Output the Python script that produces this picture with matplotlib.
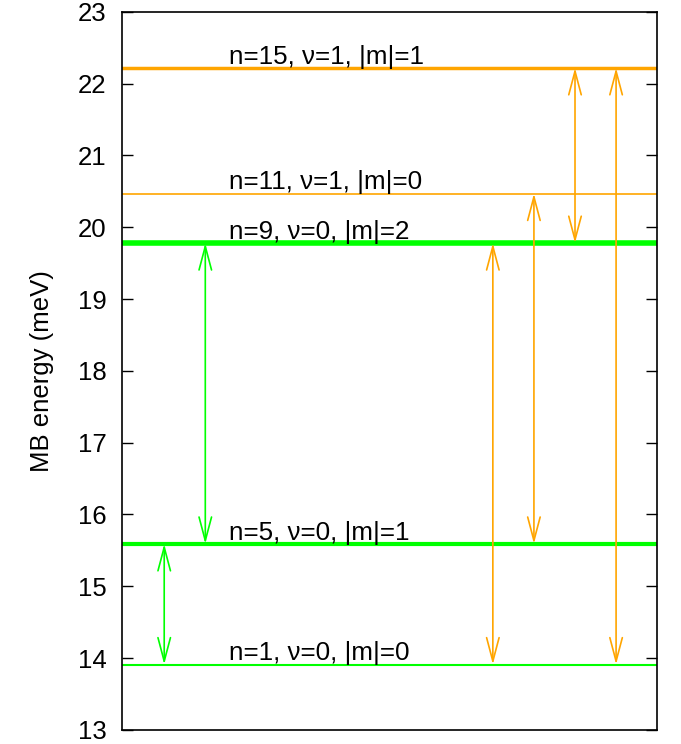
import matplotlib
matplotlib.use("Agg")
import matplotlib.pyplot as plt

plt.rcParams['font.family'] = ['Liberation Sans', 'DejaVu Sans']

# energy levels (meV)
level_labels = ["n=1, \u03bd=0, |m|=0", "n=5, \u03bd=0, |m|=1", "n=9, \u03bd=0, |m|=2",
                "n=11, \u03bd=1, |m|=0", "n=15, \u03bd=1, |m|=1"]
level_energy = [13.91, 15.59, 19.78, 20.47, 22.22]
level_color = ["#00ff00", "#00ff00", "#00ff00", "#ffa500", "#ffa500"]
level_width = [1.5, 3.0, 4.0, 1.2, 2.5]

# transitions: x position, lower level index, upper level index
trans_x = [1, 2, 9, 10, 11, 12]
trans_lo = [0, 1, 0, 1, 2, 0]
trans_hi = [1, 2, 2, 3, 4, 4]
trans_color = ["#00ff00", "#00ff00", "#ffa500", "#ffa500", "#ffa500", "#ffa500"]

fig = plt.figure(figsize=(6.81, 7.44), dpi=100)
ax = fig.add_axes([0.179, 0.019, 0.786, 0.965])

for e, c, w, lab in zip(level_energy, level_color, level_width, level_labels):
    ax.axhline(e, color=c, lw=w, zorder=2)
    ax.annotate(lab, xy=(2.57, e), xytext=(0, 3), textcoords='offset points',
                fontsize=18.7, va='baseline', ha='left')

for x, lo, hi, c in zip(trans_x, trans_lo, trans_hi, trans_color):
    ax.annotate('', xy=(x, level_energy[hi]), xytext=(x, level_energy[lo]),
                arrowprops=dict(arrowstyle='<->,head_length=1.7,head_width=0.45',
                                color=c, lw=1.2, shrinkA=0, shrinkB=0))

ax.set_xlim(-0.03, 13)
ax.set_ylim(13, 23)
ax.set_xticks([])
ax.set_yticks(range(13, 24))
ax.tick_params(axis='y', direction='in', length=8, width=1, right=True,
               labelsize=18.5, pad=11)
for s in ax.spines.values():
    s.set_linewidth(1.2)
ax.set_ylabel("MB energy (meV)", fontsize=18.5, labelpad=17)

fig.savefig("out.png", dpi=100)
